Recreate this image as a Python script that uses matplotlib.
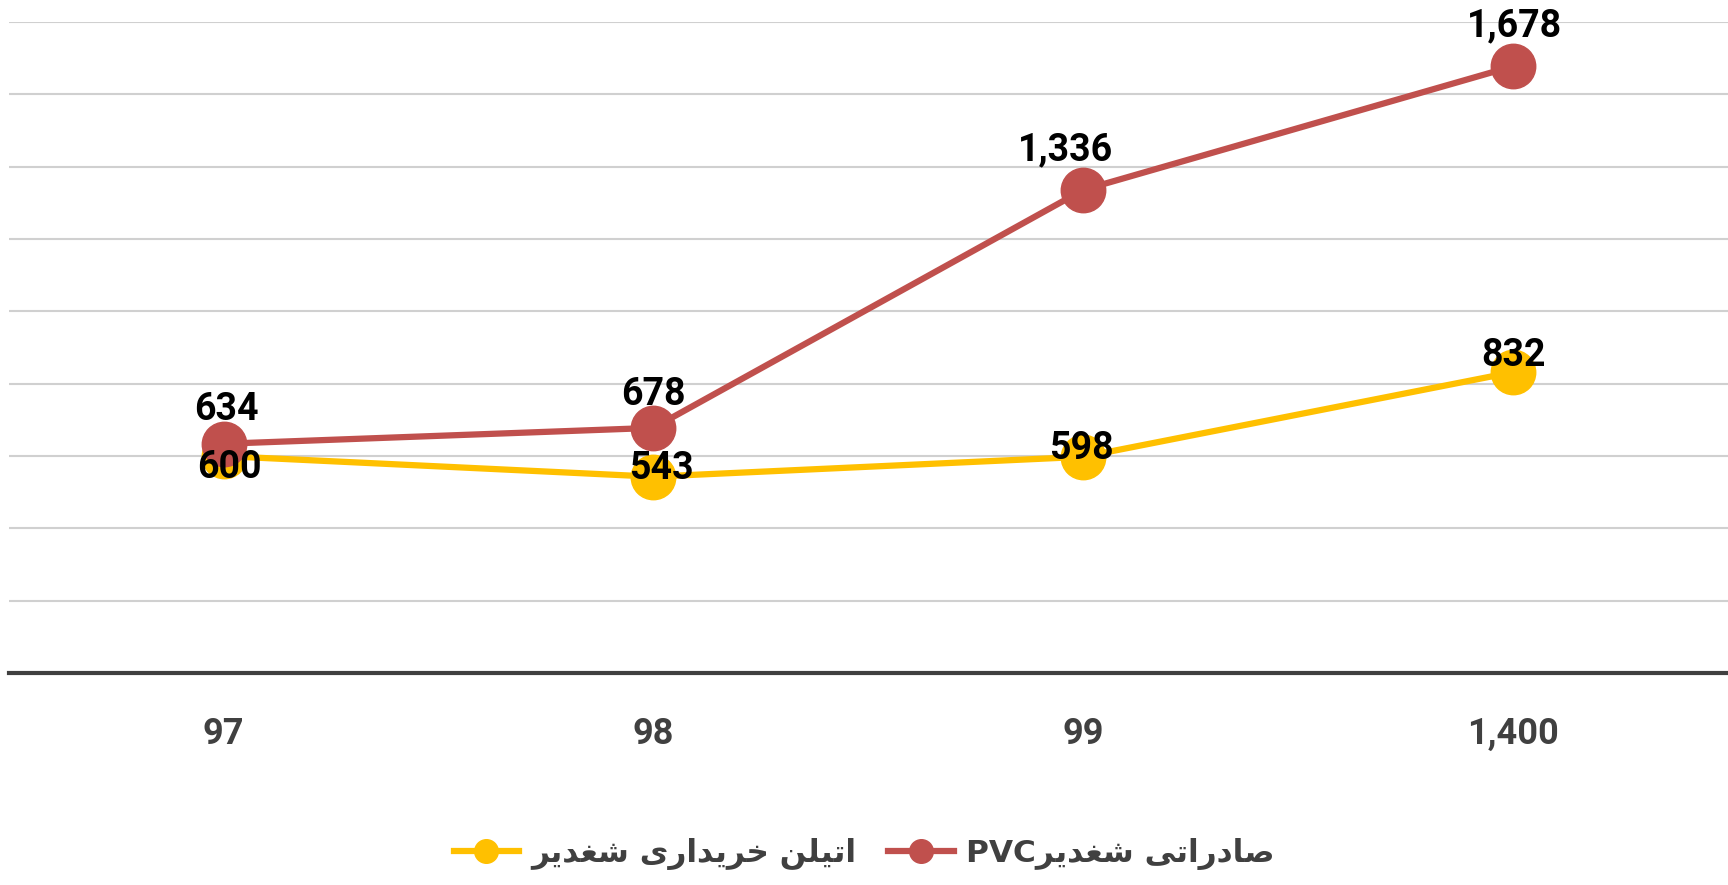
import matplotlib.pyplot as plt
from matplotlib.lines import Line2D

# --- DATA ---
years = ["97", "98", "99", "1,400"]
ethylene_buy = [600, 543, 598, 832]
pvc_export = [634, 678, 1336, 1678]
legend_ethylene = "اتیلن خریداری شغدیر"
legend_pvc = "صادراتی شغدیرPVC"

# label offsets in points (dx, dy)
off_pvc = [(2, 25), (0, 24), (-13, 29), (1, 29)]
off_eth = [(4, -8), (6, 6), (-1, 6), (0, 12)]

COLOR_YELLOW = '#FFC000'
COLOR_RED = '#C0504D'
COLOR_GRID = '#d0d0d0'
COLOR_AXIS = '#404040'

# --- minimal arabic shaping (matplotlib has no shaper / bidi) ---
FORMS = {
    'ا': ('\uFE8D', '\uFE8E', None, None),
    'د': ('\uFEA9', '\uFEAA', None, None),
    'ر': ('\uFEAD', '\uFEAE', None, None),
    'ص': ('\uFEB9', '\uFEBA', '\uFEBB', '\uFEBC'),
    'ت': ('\uFE95', '\uFE96', '\uFE97', '\uFE98'),
    'ی': ('\uFBFC', '\uFBFD', '\uFBFE', '\uFBFF'),
    'ش': ('\uFEB5', '\uFEB6', '\uFEB7', '\uFEB8'),
    'غ': ('\uFECD', '\uFECE', '\uFECF', '\uFED0'),
    'ل': ('\uFEDD', '\uFEDE', '\uFEDF', '\uFEE0'),
    'ن': ('\uFEE5', '\uFEE6', '\uFEE7', '\uFEE8'),
    'خ': ('\uFEA5', '\uFEA6', '\uFEA7', '\uFEA8'),
}


def dual(c):
    return c in FORMS and FORMS[c][2] is not None


def shape(text):
    out = []
    for i, c in enumerate(text):
        if c not in FORMS:
            out.append(c)
            continue
        prev = text[i - 1] if i > 0 else ''
        nxt = text[i + 1] if i + 1 < len(text) else ''
        join_prev = dual(prev)
        join_next = dual(c) and nxt in FORMS
        iso, fin, ini, med = FORMS[c]
        if join_prev and join_next:
            out.append(med)
        elif join_prev:
            out.append(fin)
        elif join_next:
            out.append(ini)
        else:
            out.append(iso)
    shaped = ''.join(out)
    # simple RTL paragraph: split in runs, reverse run order, reverse rtl runs
    runs = []
    for orig, ch in zip(text, shaped):
        rtl = not orig.isascii() or orig == ' '
        if runs and runs[-1][0] == rtl:
            runs[-1][1].append(ch)
        else:
            runs.append((rtl, [ch]))
    vis = []
    for rtl, chars in reversed(runs):
        vis.append(''.join(reversed(chars)) if rtl else ''.join(chars))
    return ''.join(vis)


plt.rcParams["font.family"] = ["Roboto", "DejaVu Sans"]

fig = plt.figure(figsize=(17.28, 8.85), dpi=100)
ax = fig.add_axes([0.005, 0.2395, 0.995, 0.7355])

x = list(range(len(years)))
ax.plot(x, ethylene_buy, color=COLOR_YELLOW, linewidth=4.5, marker='o',
        markersize=32, zorder=3)
ax.plot(x, pvc_export, color=COLOR_RED, linewidth=4.5, marker='o',
        markersize=32, zorder=4)

for xi, v, (dx, dy) in zip(x, pvc_export, off_pvc):
    ax.annotate(f"{v:,}", (xi, v), xytext=(dx, dy), textcoords='offset points',
                ha='center', va='center', fontsize=27, fontweight='bold',
                color='black', zorder=6)
for xi, v, (dx, dy) in zip(x, ethylene_buy, off_eth):
    ax.annotate(f"{v:,}", (xi, v), xytext=(dx, dy), textcoords='offset points',
                ha='center', va='center', fontsize=27, fontweight='bold',
                color='black', zorder=6)

ax.set_xlim(-0.5, 3.5)
ax.set_ylim(0, 1800)
ax.set_yticks(range(200, 1801, 200))
ax.set_yticklabels([])
ax.tick_params(axis='y', length=0)
ax.grid(axis='y', color=COLOR_GRID, linewidth=1.5)
ax.set_axisbelow(True)

ax.set_xticks(x)
ax.set_xticklabels(years, fontsize=26, fontweight='bold', color=COLOR_AXIS)
ax.tick_params(axis='x', length=0, pad=31)

for s in ['top', 'right', 'left']:
    ax.spines[s].set_visible(False)
ax.spines['bottom'].set_color(COLOR_AXIS)
ax.spines['bottom'].set_linewidth(3)

handles = [
    Line2D([], [], color=COLOR_YELLOW, linewidth=4.5, marker='o', markersize=17),
    Line2D([], [], color=COLOR_RED, linewidth=4.5, marker='o', markersize=17),
]
leg = fig.legend(handles, [shape(legend_ethylene), shape(legend_pvc)],
                 loc='center', bbox_to_anchor=(0.5, 1 - 854 / 885), ncol=2,
                 frameon=False, handlelength=2.1, columnspacing=1.0,
                 handletextpad=0.4,
                 prop={'family': ['DejaVu Sans'], 'weight': 'bold', 'size': 22.5})
for t in leg.get_texts():
    t.set_color(COLOR_AXIS)

fig.savefig("out.png", dpi=100)
